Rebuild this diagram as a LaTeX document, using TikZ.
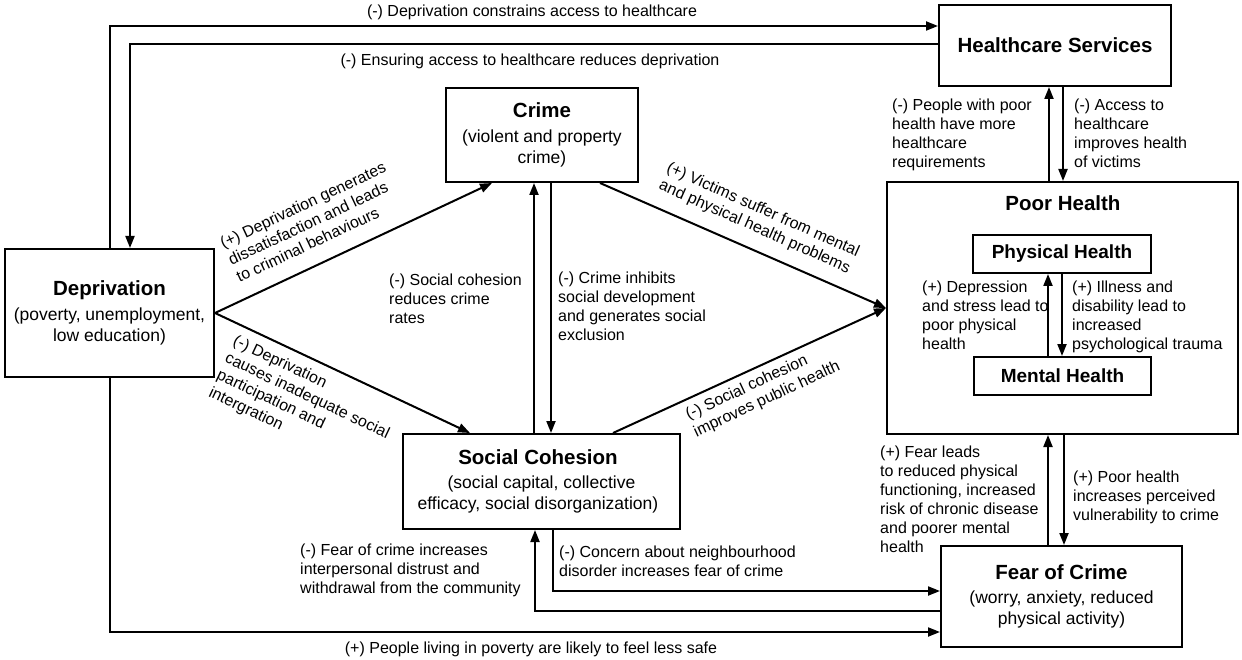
\documentclass[tikz,border=0pt]{standalone}
\usepackage{fontspec}
\setmainfont{Liberation Sans}
\usetikzlibrary{arrows.meta,calc}
\newcommand{\titf}{\bfseries\fontsize{20.5}{24}\selectfont}
\newcommand{\subtf}{\bfseries\fontsize{19}{23}\selectfont}
\newcommand{\subf}{\fontsize{17.5}{21}\selectfont}
\newcommand{\labf}{\fontsize{16}{19}\selectfont}
\begin{document}
\begin{tikzpicture}[x=1pt,y=-1pt,
  box/.style={draw, line width=2pt, inner sep=0pt, align=center, font=\subf},
  arr/.style={line width=2pt, -{Triangle[length=12pt,width=9pt]}},
  lab/.style={font=\labf, align=left, inner sep=0pt, anchor=north west},
  rlab/.style={font=\labf, align=left, inner sep=0pt, anchor=center},
  slab/.style={font=\labf, inner sep=0pt}]
\useasboundingbox (0,0) rectangle (1242,660);
% boxes
\node[box, minimum width=232pt, minimum height=81pt] (hc) at (1055,45.5) {\titf Healthcare Services};
\node[box, minimum width=192pt, minimum height=94pt] (crime) at (542,135) {{\titf Crime}\\[3.5pt](violent and property\\crime)};
\node[box, minimum width=209pt, minimum height=128pt] (dep) at (109.5,313) {{\titf Deprivation}\\[3.5pt](poverty, unemployment,\\low education)};
\node[box, minimum width=277pt, minimum height=95pt] (sc) at (541.5,481.5) {{\titf Social Cohesion}\hspace*{7pt}\\[3.5pt](social capital, collective\hspace*{7pt}\\efficacy, social disorganization)\hspace*{7pt}};
\node[box, minimum width=351pt, minimum height=252pt] (ph) at (1062.5,308) {};
\node[font=\titf, inner sep=0pt] (phtitle) at (1063,203) {Poor Health};
\node[box, minimum width=178pt, minimum height=38pt, font=\subtf] (phy) at (1062,254) {Physical Health};
\node[box, minimum width=177pt, minimum height=38pt, font=\subtf] (mh) at (1062.5,376) {Mental Health};
\node[box, minimum width=241pt, minimum height=101pt] (fear) at (1061.5,596.5) {{\titf Fear of Crime}\\[3.5pt](worry, anxiety, reduced\\physical activity)};
% connectors
\draw[arr] (dep.north) |- ([yshift=19.5pt]hc.west);
\draw[arr] ([yshift=1.5pt]hc.west) -| ([xshift=20.5pt]dep.north);
\draw[arr] (dep.east) -- ([xshift=-50pt]crime.south);
\draw[arr] (dep.east) -- ([xshift=-71.5pt]sc.north);
\draw[arr] (534,0 |- sc.north) -- (534,0 |- crime.south);
\draw[arr] (551,0 |- crime.south) -- (551,0 |- sc.north);
\draw[arr] ([xshift=58pt]crime.south) -- (ph.west);
\draw[arr] ([xshift=71.5pt]sc.north) -- (ph.west);
\draw[arr] (1049,0 |- ph.north) -- (1049,0 |- hc.south);
\draw[arr] (1063,0 |- hc.south) -- (1063,0 |- ph.north);
\draw[arr] (1048,0 |- mh.north) -- (1048,0 |- phy.south);
\draw[arr] (1062,0 |- phy.south) -- (1062,0 |- mh.north);
\draw[arr] (1048,0 |- fear.north) -- (1048,0 |- ph.south);
\draw[arr] (1064,0 |- ph.south) -- (1064,0 |- fear.north);
\draw[arr] (553,0 |- sc.south) |- ([yshift=5.5pt]fear.west);
\draw[arr] ([yshift=-14.5pt]fear.west) -| (535,0 |- sc.south);
\draw[arr] (dep.south) |- ([yshift=-35.5pt]fear.west);
% labels
\node[slab] (lt1) at (532,12) {(-) Deprivation constrains access to healthcare};
\node[slab] (lt2) at (530,61) {(-) Ensuring access to healthcare reduces deprivation};
\node[slab] (lb) at (531,649) {(+) People living in poverty are likely to feel less safe};
\node[rlab, rotate=25.2] (ldc) at (311,222) {(+) Deprivation generates\\dissatisfaction and leads\\to criminal behaviours};
\node[rlab, rotate=-25.3] (lds) at (303,405) {(-) Deprivation\\causes inadequate social\\participation and\\intergration};
\node[rlab, rotate=-24] (lcp) at (759,219) {(+) Victims suffer from mental\\and physical health problems};
\node[rlab, rotate=25] (lsp) at (763,391) {(-) Social cohesion\\improves public health};
\node[lab] (lsc) at (389,274) {(-) Social cohesion\\reduces crime\\rates};
\node[lab] (lcs) at (558,272) {(-) Crime inhibits\\social development\\and generates social\\exclusion};
\node[lab] (lph) at (892,99) {(-) People with poor\\health have more\\healthcare\\requirements};
\node[lab] (lhp) at (1074,99) {(-) Access to\\healthcare\\improves health\\of victims};
\node[lab] (lmp) at (922,281) {(+) Depression\\and stress lead to\\poor physical\\health};
\node[lab] (lpm) at (1072,281) {(+) Illness and\\disability lead to\\increased\\psychological trauma};
\node[lab] (lfp) at (880,446) {(+) Fear leads\\to reduced physical\\functioning, increased\\risk of chronic disease\\and poorer mental\\health};
\node[lab] (lpf) at (1073,471) {(+) Poor health\\increases perceived\\vulnerability to crime};
\node[lab] (lfs) at (300,544) {(-) Fear of crime increases\\interpersonal distrust and\\withdrawal from the community};
\node[lab] (lsf) at (559,546) {(-) Concern about neighbourhood\\disorder increases fear of crime};
\end{tikzpicture}
\end{document}
